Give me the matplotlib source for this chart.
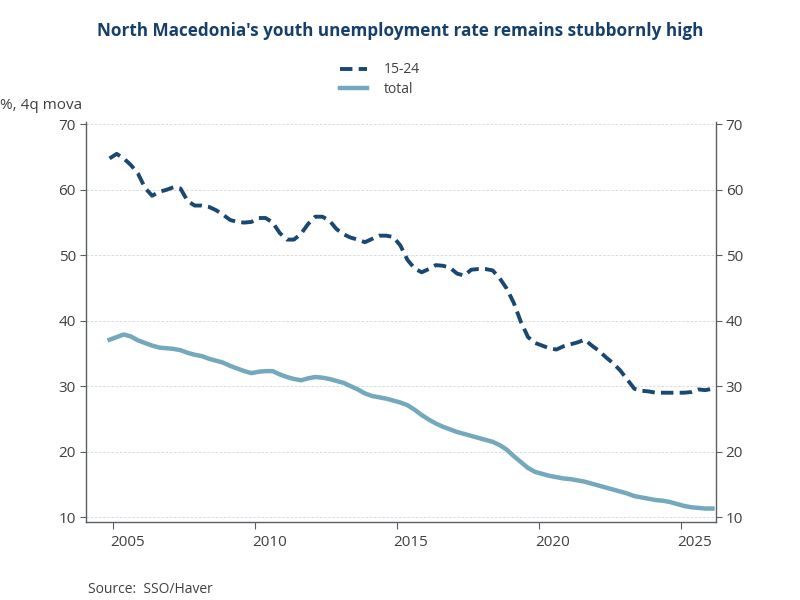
import numpy as np
import pandas as pd
import matplotlib
matplotlib.use("Agg")
import matplotlib.pyplot as plt

plt.rcParams['font.family'] = ['Open Sans', 'DejaVu Sans']

# quarterly data, 2004Q4 .. 2026Q1 (4q moving average, %)
quarters = pd.period_range("2004Q4", "2026Q1", freq="Q")

youth = [64.8,
         65.5, 64.8, 63.8, 62.5,   # 2005
         60.3, 59.1, 59.7, 60.0,   # 2006
         60.4, 60.2, 58.3, 57.6,   # 2007
         57.6, 57.4, 56.9, 56.2,   # 2008
         55.4, 55.1, 55.0, 55.1,   # 2009
         55.7, 55.7, 55.0, 53.4,   # 2010
         52.4, 52.4, 53.3, 54.8,   # 2011
         55.9, 55.9, 55.3, 54.0,   # 2012
         53.2, 52.7, 52.4, 52.0,   # 2013
         52.5, 53.0, 53.0, 52.8,   # 2014
         51.5, 49.3, 48.0, 47.4,   # 2015
         47.9, 48.5, 48.4, 48.1,   # 2016
         47.2, 46.9, 47.8, 47.9,   # 2017
         47.9, 47.7, 46.5, 44.9,   # 2018
         42.7, 39.8, 37.5, 36.6,   # 2019
         36.2, 35.8, 35.6, 36.1,   # 2020
         36.4, 36.7, 37.1, 36.2,   # 2021
         35.4, 34.4, 33.5, 32.4,   # 2022
         31.0, 29.6, 29.3, 29.2,   # 2023
         29.0, 29.0, 29.0, 29.0,   # 2024
         29.0, 29.1, 29.5, 29.4,   # 2025
         29.6]                     # 2026

total = [37.1,
         37.5, 37.9, 37.6, 37.0,   # 2005
         36.6, 36.2, 35.9, 35.8,   # 2006
         35.7, 35.5, 35.1, 34.8,   # 2007
         34.6, 34.2, 33.9, 33.6,   # 2008
         33.1, 32.7, 32.3, 32.0,   # 2009
         32.2, 32.3, 32.3, 31.8,   # 2010
         31.4, 31.1, 30.9, 31.2,   # 2011
         31.4, 31.3, 31.1, 30.8,   # 2012
         30.5, 30.0, 29.5, 28.9,   # 2013
         28.5, 28.3, 28.1, 27.8,   # 2014
         27.5, 27.1, 26.4, 25.6,   # 2015
         24.9, 24.3, 23.8, 23.4,   # 2016
         23.0, 22.7, 22.4, 22.1,   # 2017
         21.8, 21.5, 21.0, 20.3,   # 2018
         19.3, 18.4, 17.5, 16.9,   # 2019
         16.6, 16.3, 16.1, 15.9,   # 2020
         15.8, 15.6, 15.4, 15.1,   # 2021
         14.8, 14.5, 14.2, 13.9,   # 2022
         13.6, 13.2, 13.0, 12.8,   # 2023
         12.6, 12.5, 12.3, 12.0,   # 2024
         11.7, 11.5, 11.4, 11.3,   # 2025
         11.3]                     # 2026

years = [2005, 2010, 2015, 2020, 2025]
yticks = [10, 20, 30, 40, 50, 60, 70]

# decimal years at mid-quarter
x = np.array([q.year + (q.quarter - 1) / 4 + 0.125 for q in quarters])

dark = "#1b4872"
light = "#74a9bd"
axcol = "#5a5f66"
txtcol = "#404040"

fig = plt.figure(figsize=(8, 6), dpi=100)
ax = fig.add_axes([0.107, 0.1295, 0.788, 0.6675])

ax.plot(x, youth, color=dark, lw=2.8, dashes=(3.2, 1.6), label="15-24")
ax.plot(x, total, color=light, lw=3.2, label="total")

ax.set_xlim(2004.03, 2026.25)
ax.set_ylim(9.2, 70.4)

# ticks at year start, labels centred on the year
ax.set_xticks(years)
ax.set_xticklabels([])
ax.set_xticks([y + 0.5 for y in years], minor=True)
ax.set_xticklabels([str(y) for y in years], minor=True)
ax.tick_params(axis="x", which="major", length=5, color=axcol)
ax.tick_params(axis="x", which="minor", length=0, pad=9, labelsize=11, labelcolor=txtcol)

ax.set_yticks(yticks)
ax.tick_params(axis="y", which="both", length=4, color=axcol, labelsize=11,
               labelcolor=txtcol, left=True, right=True, labelleft=True, labelright=True, pad=3)

ax.grid(axis="y", color="#d6d6d6", ls=(0, (3, 2)), lw=0.6)
ax.set_axisbelow(True)

for s in ["left", "right", "bottom"]:
    ax.spines[s].set_color(axcol)
    ax.spines[s].set_linewidth(1.0)
ax.spines["top"].set_visible(False)

fig.text(0.5, 0.948, "North Macedonia's youth unemployment rate remains stubbornly high",
         ha="center", va="center", fontsize=12.3, fontweight="bold", color="#16406b")
fig.text(0.0, 0.824, "%, 4q mova", ha="left", va="center", fontsize=11, color=txtcol)
fig.text(0.11, 0.017, "Source:  SSO/Haver", ha="left", va="center", fontsize=10, color=txtcol)

leg = fig.legend(loc="center", bbox_to_anchor=(0.475, 0.867), ncol=1, frameon=False,
                 fontsize=10, handlelength=2.0, handletextpad=1.2, labelspacing=0.35)
for t in leg.get_texts():
    t.set_color(txtcol)

fig.savefig("out.png", dpi=100)
